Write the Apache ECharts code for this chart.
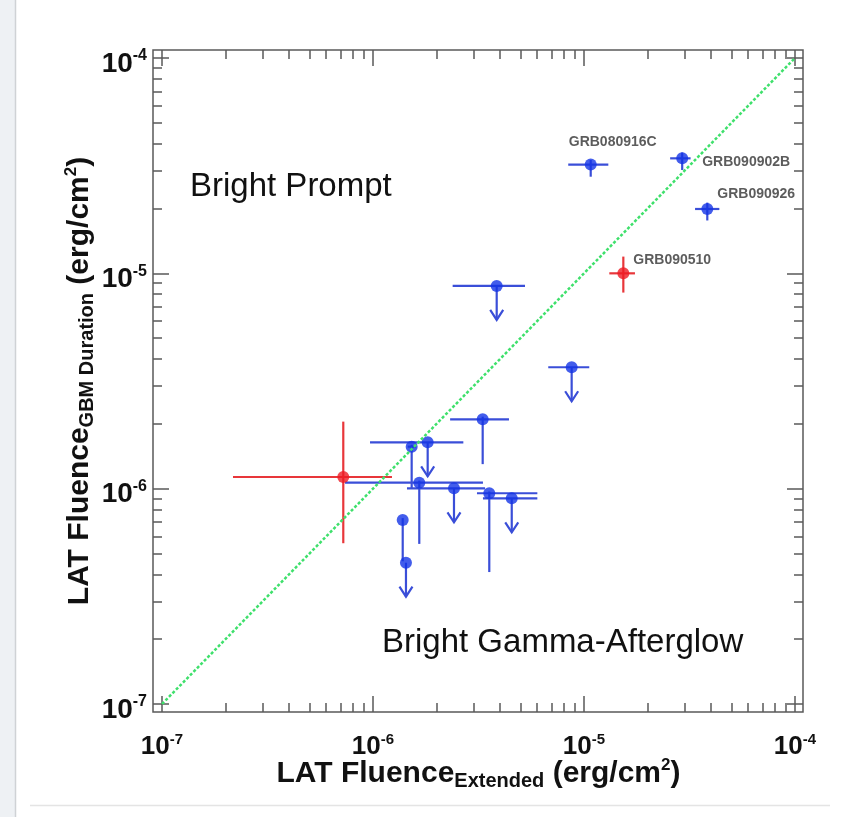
<!DOCTYPE html>
<html>
<head>
<meta charset="utf-8">
<script src="https://cdn.jsdelivr.net/npm/echarts@6/dist/echarts.min.js"></script>
<style>
  html, body { margin: 0; padding: 0; background: #ffffff; }
  #chart { width: 852px; height: 817px; }
</style>
</head>
<body>
<div id="chart"></div>
<script>
// LAT fluence in the GBM duration vs LAT fluence over the extended emission (erg/cm^2)

// Detected bursts (blue): centre, x error range, y error range
const blueNames = ['GRB080916C', 'GRB090902B', 'GRB090926', '', '', '', '', ''];
const blueX   = [1.076e-5, 2.92e-5, 3.84e-5, 3.31e-6, 1.525e-6, 1.657e-6, 3.557e-6, 1.383e-6];
const blueXLo = [8.42e-6, 2.56e-5, 3.36e-5, 2.32e-6, 1.46e-6, 7.37e-7, 3.11e-6, 1.383e-6];
const blueXHi = [1.304e-5, 3.2e-5, 4.38e-5, 4.41e-6, 1.6e-6, 3.32e-6, 6.01e-6, 1.383e-6];
const blueY   = [3.2e-5, 3.42e-5, 1.99e-5, 2.1e-6, 1.567e-6, 1.066e-6, 9.52e-7, 7.16e-7];
const blueYLo = [2.81e-5, 3.02e-5, 1.76e-5, 1.3e-6, 1.008e-6, 5.54e-7, 4.1e-7, 4.6e-7];
const blueYHi = [3.36e-5, 3.64e-5, 2.13e-5, 2.16e-6, 1.6e-6, 1.09e-6, 9.7e-7, 7.3e-7];

// Short bursts (red)
const redNames = ['GRB090510', ''];
const redX   = [1.536e-5, 7.23e-7];
const redXLo = [1.318e-5, 2.17e-7];
const redXHi = [1.744e-5, 1.23e-6];
const redY   = [1.0e-5, 1.133e-6];
const redYLo = [8.14e-6, 5.58e-7];
const redYHi = [1.196e-5, 2.048e-6];

// Upper limits on the GBM-duration fluence (blue, arrow down)
const limX   = [3.857e-6, 8.74e-6, 1.816e-6, 2.42e-6, 4.545e-6, 1.433e-6];
const limXLo = [2.385e-6, 6.77e-6, 9.68e-7, 1.449e-6, 3.32e-6, 1.433e-6];
const limXHi = [5.253e-6, 1.059e-5, 2.68e-6, 3.397e-6, 6.01e-6, 1.433e-6];
const limY   = [8.74e-6, 3.664e-6, 1.642e-6, 1.004e-6, 9.02e-7, 4.53e-7];

// Equal-fluence line and axis range
const equalLine = [[1e-7, 1e-7], [1e-4, 1e-4]];
const axisMin = 1e-7;
const axisMax = 1e-4;

// ---- styling -------------------------------------------------------------
const BLUE = '#1434e6';
const BLUE_BAR = '#3a4ed8';
const RED = '#ee1c24';
const RED_BAR = '#e8363a';
const GREEN = '#3fe06c';
const FRAME = '#5a5a5a';
const FONT = '"Liberation Sans", Arial, Helvetica, sans-serif';

const GRID = { left: 162, right: 57, top: 58, bottom: 113 };
const PAD = { left: 9, right: 8, top: 8, bottom: 8 };
const ARROW_LEN = 34;

// per-name label placement
const nameLabel = {
  GRB080916C: { position: 'top', offset: [22, -4] },
  GRB090902B: { position: 'right', offset: [9, 4] },
  GRB090926:  { position: 'right', offset: [-1, -15] },
  GRB090510:  { position: 'right', offset: [-1, -13] }
};

function points(names, xs, ys) {
  return xs.map(function (x, i) {
    const item = { value: [x, ys[i]] };
    const n = names[i];
    if (n) {
      item.name = n;
      item.label = Object.assign({
        show: true,
        formatter: '{b}',
        fontFamily: FONT,
        fontWeight: 'bold',
        fontSize: 14,
        color: '#333333'
      }, nameLabel[n]);
    }
    return item;
  });
}

function errorRows(xs, xlo, xhi, ys, ylo, yhi) {
  return xs.map(function (x, i) { return [x, ys[i], xlo[i], xhi[i], ylo[i], yhi[i]]; });
}

function errorBars(color) {
  return function (params, api) {
    const c = api.coord([api.value(0), api.value(1)]);
    const xl = api.coord([api.value(2), api.value(1)]);
    const xh = api.coord([api.value(3), api.value(1)]);
    const yl = api.coord([api.value(0), api.value(4)]);
    const yh = api.coord([api.value(0), api.value(5)]);
    const style = { stroke: color, lineWidth: 2.2 };
    return {
      type: 'group',
      children: [
        { type: 'line', shape: { x1: xl[0], y1: c[1], x2: xh[0], y2: c[1] }, style: style },
        { type: 'line', shape: { x1: c[0], y1: yh[1], x2: c[0], y2: yl[1] }, style: style }
      ]
    };
  };
}

function limitArrows(params, api) {
  const c = api.coord([api.value(0), api.value(1)]);
  const xl = api.coord([api.value(2), api.value(1)]);
  const xh = api.coord([api.value(3), api.value(1)]);
  const tip = c[1] + ARROW_LEN;
  const style = { stroke: BLUE_BAR, lineWidth: 2.2, fill: null };
  return {
    type: 'group',
    children: [
      { type: 'line', shape: { x1: xl[0], y1: c[1], x2: xh[0], y2: c[1] }, style: style },
      { type: 'line', shape: { x1: c[0], y1: c[1], x2: c[0], y2: tip }, style: style },
      { type: 'polyline', shape: { points: [[c[0] - 6.5, tip - 10], [c[0], tip], [c[0] + 6.5, tip - 10]] }, style: style }
    ]
  };
}

function expLabel(v) {
  const e = Math.round(Math.log10(v));
  return '{b|10}{s|' + e + '}';
}

function tickRich(size, supSize) {
  return {
    b: { fontFamily: FONT, fontWeight: 'bold', fontSize: size, color: '#111', lineHeight: size + 4 },
    s: { fontFamily: FONT, fontWeight: 'bold', fontSize: supSize, color: '#111', lineHeight: supSize, verticalAlign: 'top' }
  };
}

const titleRich = {
  t: { fontFamily: FONT, fontWeight: 'bold', fontSize: 30, color: '#111', lineHeight: 34 },
  sub: { fontFamily: FONT, fontWeight: 'bold', fontSize: 20, color: '#111', lineHeight: 24, verticalAlign: 'bottom' },
  sup: { fontFamily: FONT, fontWeight: 'bold', fontSize: 17, color: '#111', lineHeight: 17, verticalAlign: 'top' }
};

function axisBase(extra) {
  return Object.assign({
    type: 'log',
    logBase: 10,
    min: axisMin,
    max: axisMax,
    axisLine: { show: false },
    axisTick: { show: true, inside: true, length: 16, lineStyle: { color: FRAME, width: 1.5 } },
    minorTick: { show: true, splitNumber: 9, length: 9, lineStyle: { color: FRAME, width: 1.5 } },
    splitLine: { show: false },
    minorSplitLine: { show: false }
  }, extra);
}

const chart = echarts.init(document.getElementById('chart'), null, { renderer: 'canvas' });

chart.setOption({
  animation: false,
  backgroundColor: '#ffffff',
  grid: Object.assign({ outerBoundsMode: 'none', containLabel: false }, GRID),
  xAxis: [
    axisBase({
      position: 'bottom',
      offset: PAD.bottom,
      axisLabel: { formatter: expLabel, margin: 20, rich: tickRich(26, 15) },
      name: '{t|LAT Fluence}{sub|Extended}{t| (erg/cm}{sup|2}{t|)}',
      nameLocation: 'middle',
      nameGap: 45,
      nameMoveOverlap: false,
      nameTextStyle: { rich: titleRich }
    }),
    axisBase({ position: 'top', offset: PAD.top, axisLabel: { show: false } })
  ],
  yAxis: [
    axisBase({
      position: 'left',
      offset: PAD.left,
      axisLabel: { formatter: expLabel, margin: 6, padding: [12, 0, 0, 0], rich: tickRich(28, 16) },
      name: '{t|LAT Fluence}{sub|GBM Duration}{t| (erg/cm}{sup|2}{t|)}',
      nameLocation: 'middle',
      nameRotate: 90,
      nameGap: 56,
      nameMoveOverlap: false,
      nameTextStyle: { rich: titleRich }
    }),
    axisBase({ position: 'right', offset: PAD.right, axisLabel: { show: false } })
  ],
  graphic: [
    // page decoration: left strip, its edge and the rule under the figure
    { type: 'rect', left: 0, top: 0, shape: { width: 15, height: 817 }, style: { fill: '#eef1f4' }, silent: true },
    { type: 'line', shape: { x1: 15.5, y1: 0, x2: 15.5, y2: 817 }, style: { stroke: '#cfd2d5', lineWidth: 1.5 }, silent: true },
    { type: 'line', shape: { x1: 30, y1: 805.5, x2: 830, y2: 805.5 }, style: { stroke: '#e4e4e4', lineWidth: 1.5 }, silent: true },
    // plot frame
    {
      type: 'rect',
      shape: {
        x: GRID.left - PAD.left,
        y: GRID.top - PAD.top,
        width: 852 - GRID.right + PAD.right - (GRID.left - PAD.left),
        height: 817 - GRID.bottom + PAD.bottom - (GRID.top - PAD.top)
      },
      style: { fill: null, stroke: FRAME, lineWidth: 1.5 },
      z: 10,
      silent: true
    },
    {
      type: 'text', left: 190, top: 170,
      style: { text: 'Bright Prompt', font: '33px ' + FONT, fill: '#111' }, z: 11
    },
    {
      type: 'text', left: 382, top: 626,
      style: { text: 'Bright Gamma-Afterglow', font: '33px ' + FONT, fill: '#111' }, z: 11
    }
  ],
  series: [
    {
      type: 'custom',
      name: 'blue errors',
      renderItem: errorBars(BLUE_BAR),
      encode: { x: 0, y: 1 },
      data: errorRows(blueX, blueXLo, blueXHi, blueY, blueYLo, blueYHi),
      z: 2
    },
    {
      type: 'custom',
      name: 'red errors',
      renderItem: errorBars(RED_BAR),
      encode: { x: 0, y: 1 },
      data: errorRows(redX, redXLo, redXHi, redY, redYLo, redYHi),
      z: 2
    },
    {
      type: 'custom',
      name: 'upper limits',
      renderItem: limitArrows,
      encode: { x: 0, y: 1 },
      data: limX.map(function (x, i) { return [x, limY[i], limXLo[i], limXHi[i]]; }),
      z: 2
    },
    {
      type: 'scatter',
      symbol: 'circle',
      symbolSize: 12,
      itemStyle: { color: BLUE },
      data: points(blueNames, blueX, blueY).concat(limX.map(function (x, i) { return [x, limY[i]]; })),
      z: 3
    },
    {
      type: 'scatter',
      symbol: 'circle',
      symbolSize: 12,
      itemStyle: { color: RED },
      data: points(redNames, redX, redY),
      z: 3
    },
    {
      type: 'line',
      data: equalLine,
      symbol: 'none',
      lineStyle: { color: GREEN, width: 2.5, type: [3, 2] },
      z: 4
    }
  ]
});
</script>
</body>
</html>
